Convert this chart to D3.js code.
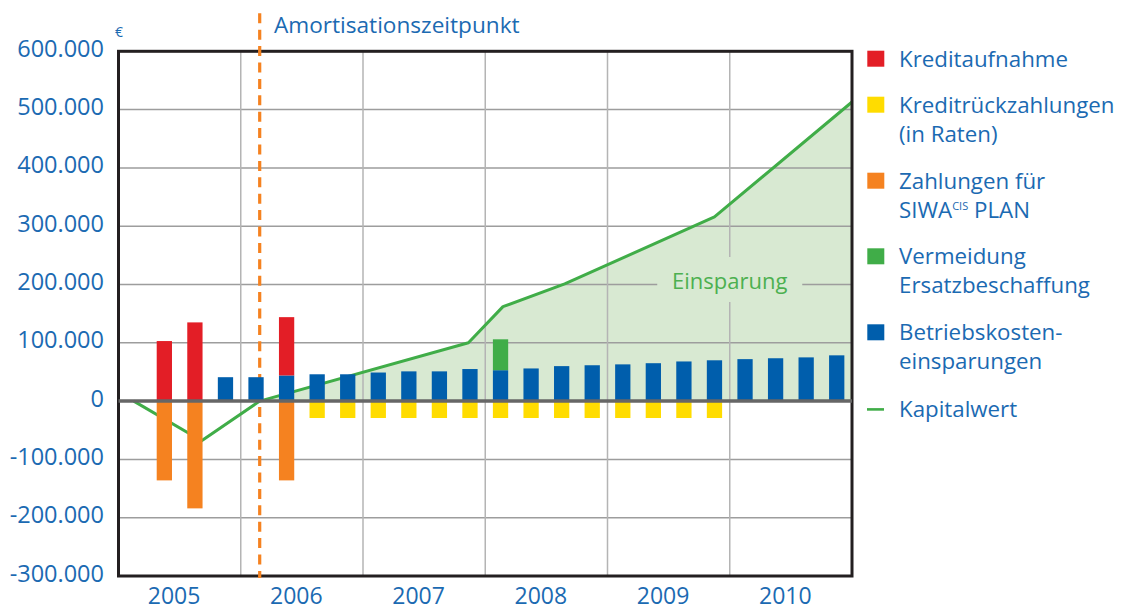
<!DOCTYPE html>
<html><head><meta charset="utf-8">
<script src="https://cdn.jsdelivr.net/npm/d3@7"></script>
<style>
body{margin:0;background:#fff}
svg{display:block}
text{font-family:"Open Sans",sans-serif}
</style>
</head><body>
<svg id="chart" width="1121" height="611"></svg>
<script>
// ---------- data ----------
const years = ["2005","2006","2007","2008","2009","2010"];
const quarterNames = ["Q1","Q2","Q3","Q4"];
const quarters = years.flatMap(y => quarterNames.map(q => y + " " + q));

// values in EUR, one per quarter
const kreditaufnahme  = [0,103000,135000,0,0,100000,0,0,0,0,0,0,0,0,0,0,0,0,0,0,0,0,0,0];
const kreditrueckzahl = [0,0,0,0,0,0,-29000,-29000,-29000,-29000,-29000,-29000,-29000,-29000,-29000,-29000,-29000,-29000,-29000,-29000,0,0,0,0];
const zahlungenSiwa   = [0,-136000,-184000,0,0,-136000,0,0,0,0,0,0,0,0,0,0,0,0,0,0,0,0,0,0];
const vermeidung      = [0,0,0,0,0,0,0,0,0,0,0,0,53000,0,0,0,0,0,0,0,0,0,0,0];
const betriebskosten  = [0,0,0,41000,41000,44000,46000,46000,49000,51000,51000,55000,53000,56000,60000,61500,63000,65000,68000,70000,72000,73500,75000,78500];

// Kapitalwert: position in quarters since start of 2005, value in EUR
const kapitalPos    = [0.5, 2.72, 4.62, 11.45, 12.58, 14.6, 19.5, 24];
const kapitalValues = [0, -68000, 0, 100000, 162000, 201000, 316000, 513000];
const amortisationPos = 4.62;

const yTicks = [600000,500000,400000,300000,200000,100000,0,-100000,-200000,-300000];

const legendItems = [
  {color:"#e31e26", lines:["Kreditaufnahme"]},
  {color:"#ffdc00", lines:["Kreditrückzahlungen","(in Raten)"]},
  {color:"#f58220", lines:["Zahlungen für","SIWA|CIS| PLAN"]},
  {color:"#40ad48", lines:["Vermeidung","Ersatzbeschaffung"]},
  {color:"#005eac", lines:["Betriebskosten-","einsparungen"]},
  {color:"#40ad48", lines:["Kapitalwert"], line:true}
];

// ---------- layout ----------
const L = 118.5, R = 852, T = 51.3, B = 576;
const blue = "#1b6ab2";
const svg = d3.select("#chart");

const xq = d3.scaleLinear().domain([0, 24]).range([L, R]);
const xb = d3.scaleBand().domain(quarters).range([L, R]).paddingInner(0.5).paddingOuter(0.25);
const y = d3.scaleLinear().domain([-300000, 600000]).range([B, T]);

const fmt = v => d3.format(",")(v).replace(/,/g, ".").replace(/\u2212/g, "-");

// area fill (positive part of Kapitalwert)
const kw = kapitalPos.map((p, i) => ({p, v: kapitalValues[i]}));
svg.append("path")
  .datum(kw)
  .attr("fill", "#d8e9d2")
  .attr("d", d3.area().x(d => xq(d.p)).y0(y(0)).y1(d => y(Math.max(0, d.v)))(kw));

// gridlines
svg.append("g").selectAll("line")
  .data(yTicks.filter(v => v !== 0 && v !== 600000 && v !== -300000))
  .join("line")
  .attr("x1", L).attr("x2", R)
  .attr("y1", d => y(d)).attr("y2", d => y(d))
  .attr("stroke", "#9d9d9d").attr("stroke-width", 1.5);

svg.append("g").selectAll("line")
  .data(d3.range(1, years.length))
  .join("line")
  .attr("x1", d => xq(d * 4)).attr("x2", d => xq(d * 4))
  .attr("y1", T).attr("y2", B)
  .attr("stroke", "#b4b4b4").attr("stroke-width", 1.5);

// Einsparung label
const einX = xq(20);
svg.append("rect")
  .attr("x", einX - 72.5).attr("y", 257).attr("width", 145).attr("height", 45)
  .attr("fill", "#d8e9d2");
svg.append("text")
  .attr("x", einX).attr("y", 289.3)
  .attr("text-anchor", "middle")
  .attr("font-size", 22).attr("fill", "#4cb050")
  .text("Einsparung");

// Kapitalwert line
svg.append("path")
  .datum(kw)
  .attr("fill", "none")
  .attr("stroke", "#40ad48")
  .attr("stroke-width", 3)
  .attr("stroke-linejoin", "round")
  .attr("d", d3.line().x(d => xq(d.p)).y(d => y(d.v)));

// frame
svg.append("rect")
  .attr("x", L).attr("y", T).attr("width", R - L).attr("height", B - T)
  .attr("fill", "none").attr("stroke", "#231f20").attr("stroke-width", 3);

// amortisation dashed line
const ax = xq(amortisationPos);
svg.append("line")
  .attr("x1", ax).attr("x2", ax).attr("y1", 13.3).attr("y2", 578)
  .attr("stroke", "#f58220").attr("stroke-width", 3.2)
  .attr("stroke-dasharray", "10,6.4");
svg.append("text")
  .attr("x", 274).attr("y", 33.3)
  .attr("font-size", 22.6).attr("fill", blue)
  .text("Amortisationszeitpunkt");

// bars
const bw = xb.bandwidth();
const bars = svg.append("g");
function drawBars(values, base, color) {
  bars.append("g").selectAll("rect")
    .data(quarters.map((q, i) => ({q, v: values[i], b: base ? base[i] : 0})).filter(d => d.v !== 0))
    .join("rect")
    .attr("x", d => xb(d.q)).attr("width", bw)
    .attr("y", d => y(Math.max(d.b, d.b + d.v)))
    .attr("height", d => Math.abs(y(d.b) - y(d.b + d.v)))
    .attr("fill", color);
}
drawBars(betriebskosten, null, "#005eac");
drawBars(kreditaufnahme, betriebskosten, "#e31e26");
drawBars(vermeidung, betriebskosten, "#40ad48");
drawBars(zahlungenSiwa, null, "#f58220");
drawBars(kreditrueckzahl, null, "#ffdc00");

// zero axis line
svg.append("line")
  .attr("x1", L).attr("x2", R).attr("y1", y(0)).attr("y2", y(0))
  .attr("stroke", "#666666").attr("stroke-width", 3.5);

// y axis labels
svg.append("g").selectAll("text")
  .data(yTicks)
  .join("text")
  .attr("x", 104).attr("y", d => y(d) + 5.5)
  .attr("text-anchor", "end")
  .attr("font-size", 23.5).attr("fill", blue)
  .text(d => fmt(d));
svg.append("text")
  .attr("x", 115).attr("y", 37.3)
  .attr("font-size", 14).attr("fill", blue)
  .text("€");

// x axis labels
svg.append("g").selectAll("text")
  .data(years)
  .join("text")
  .attr("x", (d, i) => xq(i * 4 + 2) - 5.5).attr("y", 604.3)
  .attr("text-anchor", "middle")
  .attr("font-size", 23).attr("fill", blue)
  .text(d => d);

// legend
const legendTops = [66.7, 112.7, 188.7, 264.3, 340.3, 416.7];
const lg = svg.append("g");
legendItems.forEach((it, i) => {
  const base = legendTops[i];
  if (it.line) {
    lg.append("line").attr("x1", 867).attr("x2", 884).attr("y1", base - 7.3).attr("y2", base - 7.3)
      .attr("stroke", it.color).attr("stroke-width", 2.6);
  } else {
    lg.append("rect").attr("x", 867.3).attr("y", base - 16).attr("width", 17).attr("height", 16)
      .attr("fill", it.color);
  }
  it.lines.forEach((ln, j) => {
    const t = lg.append("text").attr("x", 899).attr("y", base + j * 28.8)
      .attr("font-size", 22.3).attr("fill", blue);
    if (ln.includes("|")) {
      const parts = ln.split("|");
      t.append("tspan").text(parts[0]);
      t.append("tspan").attr("font-size", 11).attr("dy", -8).text(parts[1]);
      t.append("tspan").attr("dy", 8).text(parts[2]);
    } else {
      t.text(ln);
    }
  });
});
</script>
</body></html>
